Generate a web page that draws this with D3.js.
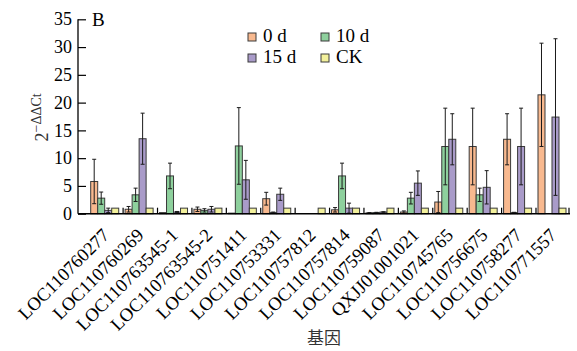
<!DOCTYPE html>
<html>
<head>
<meta charset="utf-8">
<script src="https://cdn.jsdelivr.net/npm/d3@7"></script>
<style>
  body { margin: 0; background: #fff; }
  svg { display: block; font-family: "Liberation Serif", "Times New Roman", serif; }
</style>
</head>
<body>
<div id="chart"></div>
<script>
// data
const genes = ["LOC110760277", "LOC110760269", "LOC110763545-1", "LOC110763545-2", "LOC110751411",
  "LOC110753331", "LOC110757812", "LOC110757814", "LOC110759087", "QXJJ01001021",
  "LOC110745765", "LOC110756675", "LOC110758277", "LOC110771557"];
const seriesNames = ["0 d", "10 d", "15 d", "CK"];
const colors = ["#f8b98f", "#8ed09d", "#a99bc9", "#f3f19c"];
const d0 = [5.8, 0.8, 0.2, 0.8, 0.1, 2.7, 0, 0.7, 0.15, 0.3, 2.1, 12.1, 13.4, 21.4];
const d0err = [4.0, 0.5, 0, 0.4, 0, 1.15, 0, 0.4, 0.05, 0.2, 1.9, 6.9, 4.6, 9.3];
const d10 = [2.8, 3.4, 6.8, 0.6, 12.2, 0.2, 0, 6.8, 0.2, 2.8, 12.1, 3.4, 0.2, 0];
const d10err = [1.1, 1.2, 2.3, 0.3, 6.9, 0.1, 0, 2.3, 0.05, 1.05, 6.9, 1.2, 0.05, 0];
const d15 = [0.6, 13.5, 0.3, 0.8, 6.1, 3.5, 0, 1.0, 0.3, 5.5, 13.4, 4.75, 12.1, 17.4];
const d15err = [0.4, 4.6, 0.1, 0.5, 3.5, 1.1, 0, 0.9, 0.05, 2.2, 4.6, 3.0, 6.9, 14.1];
const ck = [1, 1, 1, 1, 1, 1, 1, 1, 1, 1, 1, 1, 1, 1];
const ckErr = [0, 0, 0, 0, 0, 0, 0, 0, 0, 0, 0, 0, 0, 0];
const yTicks = [0, 5, 10, 15, 20, 25, 30, 35];

const width = 577, height = 351;
const values = [d0, d10, d15, ck];
const errs = [d0err, d10err, d15err, ckErr];

const rows = [];
genes.forEach((g, i) => {
  seriesNames.forEach((s, j) => {
    rows.push({gene: g, series: s, value: values[j][i], err: errs[j][i], k: j});
  });
});

const svg = d3.select("#chart").append("svg")
  .attr("width", width)
  .attr("height", height);

const x0 = d3.scaleBand(genes, [87.5, 569.2]).paddingInner(0.186).paddingOuter(0.093);
const x1 = d3.scaleBand(seriesNames, [0, x0.bandwidth()]);
const y = d3.scaleLinear([0, 35], [213.7, 19.3]);
const axisLeft = 78, axisRight = 570;

// bars
svg.append("g")
  .selectAll("rect")
  .data(rows.filter(d => d.value > 0))
  .join("rect")
    .attr("x", d => x0(d.gene) + x1(d.series))
    .attr("y", d => y(d.value))
    .attr("width", x1.bandwidth())
    .attr("height", d => y(0) - y(d.value))
    .attr("fill", d => colors[d.k])
    .attr("stroke", "#3a3a3a")
    .attr("stroke-width", 1);

// error bars
const eb = svg.append("g")
  .attr("stroke", "#1a1a1a")
  .attr("stroke-width", 1)
  .selectAll("g")
  .data(rows.filter(d => d.err > 0))
  .join("g")
    .attr("transform", d => `translate(${x0(d.gene) + x1(d.series) + x1.bandwidth() / 2},0)`);
eb.append("line")
  .attr("y1", d => y(Math.max(0, d.value - d.err)))
  .attr("y2", d => y(d.value + d.err));
eb.append("line")
  .attr("x1", -2).attr("x2", 2)
  .attr("y1", d => y(d.value + d.err)).attr("y2", d => y(d.value + d.err));
eb.append("line")
  .attr("x1", -2).attr("x2", 2)
  .attr("y1", d => y(Math.max(0, d.value - d.err))).attr("y2", d => y(Math.max(0, d.value - d.err)));

// y axis (ticks pointing inward)
const yAxis = svg.append("g")
  .attr("transform", `translate(${axisLeft},0)`)
  .call(d3.axisRight(y).tickValues(yTicks).tickSize(8).tickFormat(""));
yAxis.select(".domain").attr("stroke", "#000").attr("stroke-width", 1.3).attr("d", `M0,${y(35)}V${y(0)}`);
yAxis.selectAll(".tick line").attr("stroke", "#000").attr("stroke-width", 1.2);
svg.append("g")
  .selectAll("text")
  .data(yTicks)
  .join("text")
    .attr("x", axisLeft - 6)
    .attr("y", d => y(d))
    .attr("dy", "0.34em")
    .attr("text-anchor", "end")
    .style("font-size", "18px")
    .text(d => d);

// x axis line + separator ticks
svg.append("line")
  .attr("x1", axisLeft).attr("x2", axisRight)
  .attr("y1", y(0)).attr("y2", y(0))
  .attr("stroke", "#000").attr("stroke-width", 1.5);
const sepX = genes.slice(1).map(g => x0(g) - 2).concat([axisRight - 1]);
svg.append("g")
  .selectAll("line")
  .data(sepX)
  .join("line")
    .attr("x1", d => d).attr("x2", d => d)
    .attr("y1", y(0)).attr("y2", y(0) - 6)
    .attr("stroke", "#000").attr("stroke-width", 1.2);

// x labels, rotated
svg.append("g")
  .selectAll("text")
  .data(genes)
  .join("text")
    .attr("transform", g => `translate(${x0(g) + x0.bandwidth() / 2 + 1},${y(0) + 18}) rotate(-45)`)
    .attr("text-anchor", "end")
    .attr("dy", "0.35em")
    .style("font-size", "18.5px")
    .text(g => g);

// axis titles
svg.append("text")
  .attr("x", (axisLeft + axisRight) / 2)
  .attr("y", 344)
  .attr("text-anchor", "middle")
  .style("font-family", "'Noto Sans CJK SC', sans-serif")
  .style("font-size", "17px")
  .style("fill", "#333")
  .text("基因");

const yl = svg.append("text")
  .attr("transform", `translate(48,${(y(0) + y(35)) / 2 + 25}) rotate(-90)`)
  .style("font-size", "18px")
  .style("fill", "#333");
yl.append("tspan").text("2");
yl.append("tspan").attr("dy", -7).style("font-size", "14px").text("−ΔΔCt");

svg.append("text")
  .attr("x", 92).attr("y", 26)
  .style("font-size", "19px")
  .text("B");

// legend
const legend = svg.append("g")
  .selectAll("g")
  .data(seriesNames)
  .join("g")
    .attr("transform", (d, i) => `translate(${248 + (i % 2) * 73},${33 + Math.floor(i / 2) * 21})`);
legend.append("rect")
  .attr("width", 8).attr("height", 8)
  .attr("fill", (d, i) => colors[i])
  .attr("stroke", "#3a3a3a");
legend.append("text")
  .attr("x", 15).attr("y", 9)
  .style("font-size", "19px")
  .text(d => d);
</script>
</body>
</html>
